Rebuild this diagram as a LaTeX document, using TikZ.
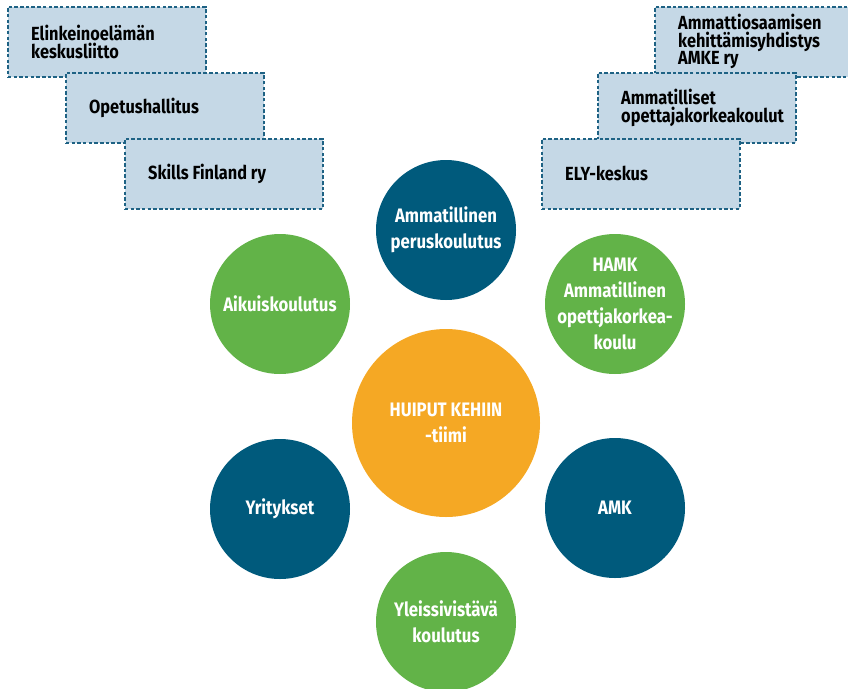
\documentclass[tikz,border=0pt]{standalone}
\usepackage{fontspec}
\newfontfamily\lbl{Fira Sans}[FakeStretch=0.86]
\definecolor{dblue}{RGB}{0,90,124}
\definecolor{lgreen}{RGB}{98,179,72}
\definecolor{orng}{RGB}{245,168,36}
\definecolor{boxfill}{RGB}{197,216,230}
\definecolor{boxline}{RGB}{30,98,132}
\begin{document}
\begin{tikzpicture}[x=1pt,y=-1pt,
 orgbox/.style={draw=boxline, fill=boxfill, line width=1.6pt, dash pattern=on 3.5pt off 2.2pt,
   minimum width=198pt, minimum height=70pt, inner sep=0pt, anchor=north west},
 orgtext/.style={anchor=west, align=left, inner sep=0pt, text=black,
   font=\lbl\bfseries\fontsize{19}{17.5}\selectfont},
 circ/.style={circle, minimum size=140pt, inner sep=0pt},
 ctext/.style={align=center, inner sep=0pt, text=white,
   font=\lbl\bfseries\fontsize{19.5}{26}\selectfont},
]
\useasboundingbox (0,0) rectangle (848,688);
\clip (0,0) rectangle (848,688);

% left boxes
\node[orgbox] (b1) at (7,6) {};
\node[orgtext] (t1) at ([xshift=24pt]b1.west) {Elinkeinoelämän\\keskusliitto};
\node[orgbox] (b2) at (65,72) {};
\node[orgtext] (t2) at ([xshift=24pt]b2.west) {Opetushallitus};
\node[orgbox] (b3) at (124,138) {};
\node[orgtext] (t3) at ([xshift=24pt]b3.west) {Skills Finland ry};

% right boxes
\node[orgbox] (b4) at (654,6) {};
\node[orgtext] (t4) at ([xshift=24pt]b4.west) {Ammattiosaamisen\\kehittämisyhdistys\\AMKE ry};
\node[orgbox] (b5) at (597,72) {};
\node[orgtext] (t5) at ([xshift=24pt]b5.west) {Ammatilliset\\opettajakorkeakoulut};
\node[orgbox] (b6) at (541,138) {};
\node[orgtext] (t6) at ([xshift=24pt]b6.west) {ELY-keskus};

% circles
\node[circ, fill=dblue] (c1) at (446,230) {};
\node[ctext] (l1) at (c1) {Ammatillinen\\peruskoulutus};
\node[circ, fill=lgreen] (c2) at (280,304) {};
\node[ctext] (l2) at (c2) {Aikuiskoulutus};
\node[circ, fill=lgreen] (c3) at (615,304) {};
\node[ctext] (l3) at (c3) {HAMK\\Ammatillinen\\opettjakorkea-\\koulu};
\node[circ, fill=orng, minimum size=188pt] (c0) at (446,423) {};
\node[ctext] (l0) at (c0) {HUIPUT KEHIIN\\-tiimi};
\node[circ, fill=dblue] (c4) at (280,509) {};
\node[ctext] (l4) at (c4) {Yritykset};
\node[circ, fill=dblue] (c5) at (615,508) {};
\node[ctext] (l5) at (c5) {AMK};
\node[circ, fill=lgreen] (c6) at (446,622) {};
\node[ctext] (l6) at (c6) {Yleissivistävä\\koulutus};
\end{tikzpicture}
\end{document}
